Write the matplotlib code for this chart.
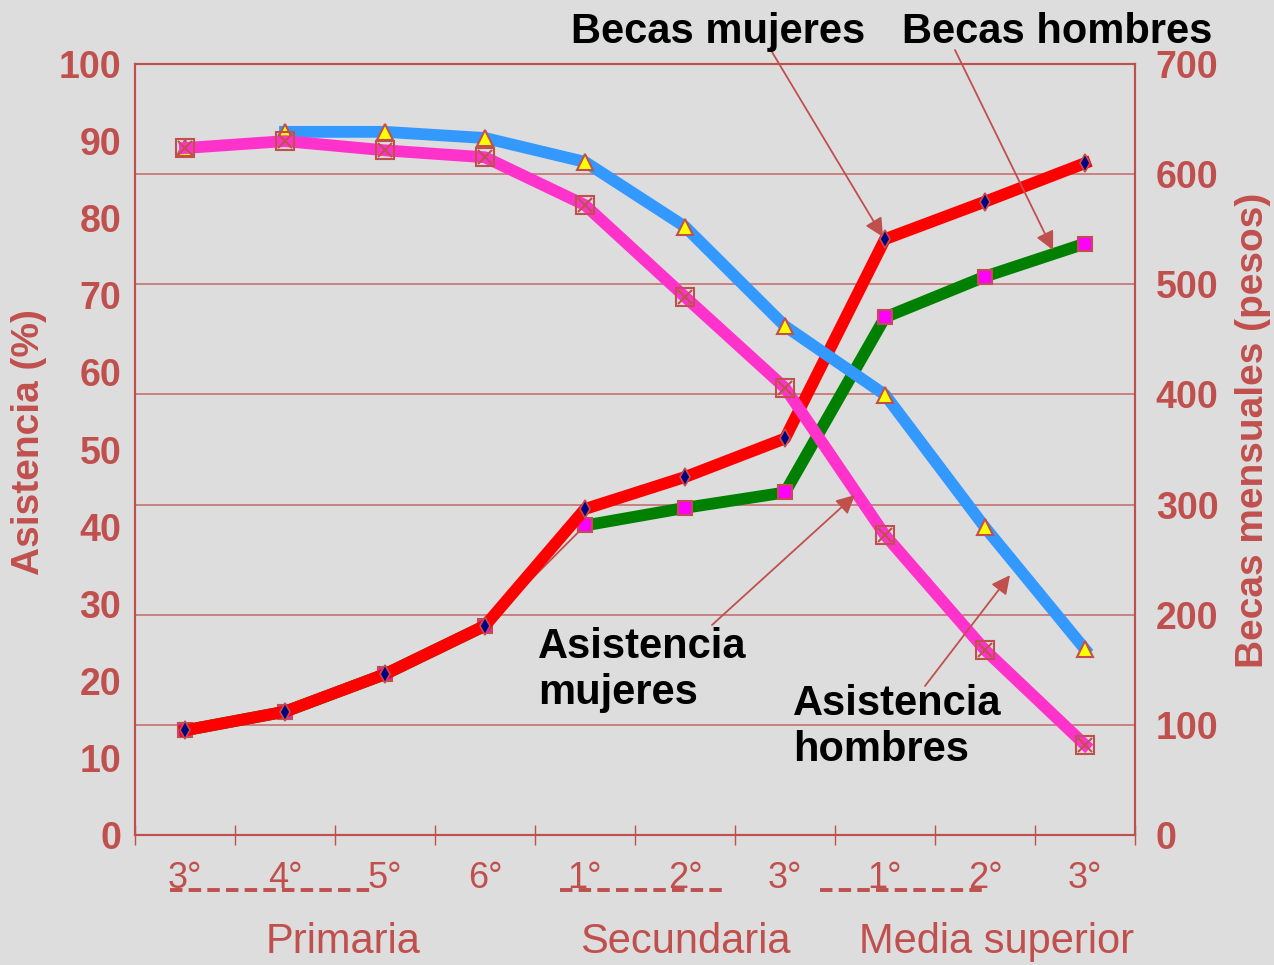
import matplotlib
matplotlib.use("Agg")
import matplotlib.pyplot as plt
from matplotlib.ticker import FixedLocator

plt.rcParams['font.family'] = ['Liberation Sans', 'DejaVu Sans']

# datos
grados = ['3°', '4°', '5°', '6°', '1°', '2°', '3°', '1°', '2°', '3°']
niveles = ['Primaria', 'Secundaria', 'Media superior']
asist_hombres = [89.1, 91.2, 91.2, 90.4, 87.3, 78.9, 66.0, 57.1, 39.9, 24.1]
asist_mujeres = [89.1, 90.0, 88.8, 87.9, 81.7, 69.8, 58.0, 38.9, 24.0, 11.7]
becas_mujeres = [95, 112, 146, 190, 296, 325, 360, 541, 575, 610]
becas_hombres = [95, 112, 146, 190, 281, 297, 311, 470, 507, 537]

rojo = '#C0504D'
fondo = '#DDDDDD'
x = list(range(len(grados)))

fig = plt.figure(figsize=(12.74, 9.65), dpi=100, facecolor=fondo)
ax = fig.add_axes([135 / 1274, 1 - 835 / 965, 1000 / 1274, 771 / 965])
ax2 = ax.twinx()
ax.set_zorder(ax2.get_zorder() + 1)
ax.patch.set_visible(False)
ax2.set_facecolor(fondo)

# becas (eje derecho)
ax2.plot(x[:4], becas_hombres[:4], color='#008000', lw=8.5, solid_capstyle='butt')
ax2.plot(x[3:5], becas_hombres[3:5], color=rojo, lw=1.3)
ax2.plot(x[4:], becas_hombres[4:], color='#008000', lw=8.5)
ax2.plot(x, becas_hombres, ls='none', marker='s', ms=9.5, mfc='#FF00FF', mec=rojo, mew=1.5)
ax2.plot(x, becas_mujeres, color='#FF0000', lw=8.5)
ax2.plot(x, becas_mujeres, ls='none', marker='d', ms=9, mfc='#000080', mec=rojo, mew=1.2)

# asistencia (eje izquierdo)
ax.plot(x[1:], asist_hombres[1:], color='#3399FF', lw=8.5)
ax.plot(x, asist_hombres, ls='none', marker='^', ms=11, mfc='#FFFF00', mec=rojo, mew=1.5)
ax.plot(x, asist_mujeres, color='#FF33CC', lw=8.5)
ax.plot(x, asist_mujeres, ls='none', marker='s', ms=13.5, mfc='none', mec=rojo, mew=1.5)
ax.plot(x, asist_mujeres, ls='none', marker='x', ms=10, mec=rojo, mew=1.5)

# ejes
ax.set_xlim(-0.5, 9.5)
ax.set_ylim(0, 100)
ax2.set_ylim(0, 700)
ax.set_yticks(range(0, 101, 10))
ax2.set_yticks(range(0, 701, 100))
ax2.yaxis.grid(True, color='#C87070', lw=1.2)
ax2.set_axisbelow(True)

ax.set_xticks(x)
ax.set_xticklabels(grados)
ax.xaxis.set_minor_locator(FixedLocator([i - 0.5 for i in range(11)]))
ax.tick_params(axis='x', which='major', length=0, pad=19, labelsize=26, labelcolor=rojo)
ax.tick_params(axis='x', which='minor', direction='inout', length=14, width=1, color=rojo)
ax.tick_params(axis='y', length=0, pad=10, labelsize=27, labelcolor=rojo)
ax2.tick_params(axis='y', length=0, pad=15, labelsize=27, labelcolor=rojo)
for lab in ax.get_yticklabels() + ax2.get_yticklabels():
    lab.set_fontweight('bold')
for a in (ax, ax2):
    for s in a.spines.values():
        s.set_color(rojo)
        s.set_linewidth(1.5)

ax.set_ylabel('Asistencia (%)', fontsize=28, fontweight='bold', color=rojo)
ax.yaxis.set_label_coords(-0.088, 0.51)
ax2.set_ylabel('Becas mensuales (pesos)', fontsize=28, fontweight='bold', color=rojo, rotation=90)
ax2.yaxis.set_label_coords(1.10, 0.525)

# lineas punteadas y niveles bajo el eje x
tr = ax.get_xaxis_transform()
for x0, x1 in [(-0.15, 1.9), (3.75, 5.38), (6.35, 7.98)]:
    ax.plot([x0, x1], [-0.071, -0.071], transform=tr, color=rojo, lw=2.8,
            dashes=(3.2, 1.6), clip_on=False)
for xc, nombre in zip([1.58, 5.0, 8.12], niveles):
    ax.text(xc, -0.139, nombre, transform=tr, ha='center', va='center',
            fontsize=30, color=rojo)

# anotaciones
flecha = dict(arrowstyle='-|>', color=rojo, lw=1.3, mutation_scale=28,
              shrinkA=0, shrinkB=0)
fig.text(718 / 1274, 1 - 32 / 965, 'Becas mujeres', ha='center', va='center',
         fontsize=30, fontweight='bold', color='black')
fig.text(1057 / 1274, 1 - 32 / 965, 'Becas hombres', ha='center', va='center',
         fontsize=30, fontweight='bold', color='black')
fig.text(538 / 1274, 1 - 670 / 965, 'Asistencia\nmujeres', ha='left', va='center',
         fontsize=30, fontweight='bold', color='black')
fig.text(793 / 1274, 1 - 727 / 965, 'Asistencia\nhombres', ha='left', va='center',
         fontsize=30, fontweight='bold', color='black')

ax2.annotate('', xy=(6.98, 543), xytext=(772 / 1274, 1 - 52 / 965),
             textcoords='figure fraction', arrowprops=flecha, annotation_clip=False)
ax2.annotate('', xy=(8.68, 531), xytext=(955 / 1274, 1 - 50 / 965),
             textcoords='figure fraction', arrowprops=flecha, annotation_clip=False)
ax.annotate('', xy=(6.7, 44.1), xytext=(712 / 1274, 1 - 625 / 965),
            textcoords='figure fraction', arrowprops=flecha, annotation_clip=False)
ax.annotate('', xy=(8.25, 33.7), xytext=(925 / 1274, 1 - 686 / 965),
            textcoords='figure fraction', arrowprops=flecha, annotation_clip=False)

fig.savefig('out.png', dpi=100, facecolor=fondo)
